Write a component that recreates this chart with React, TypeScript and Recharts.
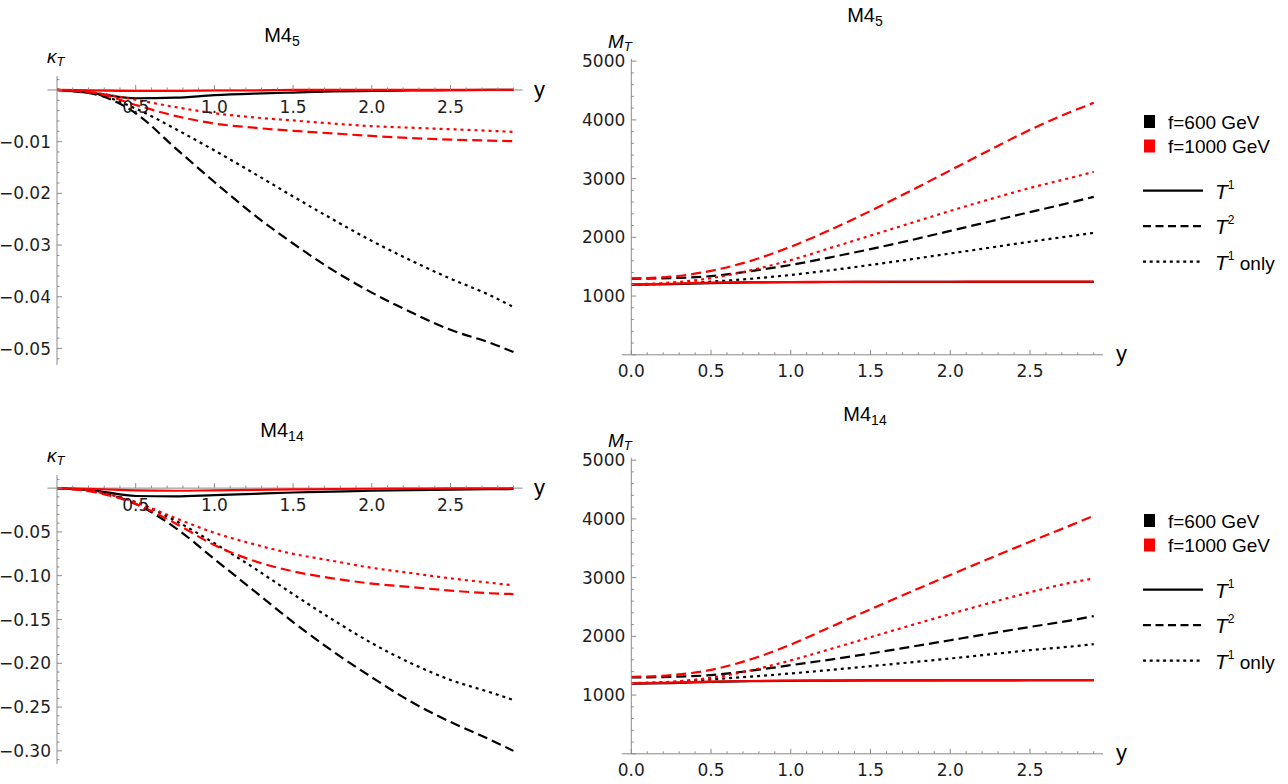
import React from 'react';
import { LineChart, Line, XAxis, YAxis, ReferenceLine, ReferenceDot, Legend } from 'recharts';

// sampled values of the mixing parameter y
const Y_PARAM = [0, 0.25, 0.5, 0.75, 1.0, 1.25, 1.5, 1.75, 2.0, 2.25, 2.5, 2.75, 2.9];

// kappa_T, M4_5
const K5_600_T1 = [0, -0.0007, -0.0016, -0.0015, -0.001, -0.0007, -0.0005, -0.0003, -0.0002, -0.0001, -0.00005, 0, 0];
const K5_600_T2 = [0, -0.0009, -0.0045, -0.0112, -0.0178, -0.0241, -0.0297, -0.0348, -0.0392, -0.043, -0.0464, -0.0489, -0.0507];
const K5_600_T1ONLY = [0, -0.0008, -0.0036, -0.0075, -0.0117, -0.0161, -0.0206, -0.025, -0.0292, -0.033, -0.0365, -0.0397, -0.042];
const K5_1000_T1 = [0, -0.0001, -0.0002, -0.0002, -0.0001, -0.0001, 0, 0, 0, 0, 0, 0, 0];
const K5_1000_T2 = [0, -0.0006, -0.0029, -0.005, -0.0065, -0.0073, -0.0079, -0.0084, -0.0089, -0.0093, -0.0096, -0.0098, -0.0099];
const K5_1000_T1ONLY = [0, -0.0006, -0.0019, -0.0033, -0.0045, -0.0053, -0.0059, -0.0065, -0.007, -0.0073, -0.0076, -0.0079, -0.0081];

// kappa_T, M4_14
const K14_600_T1 = [0, -0.003, -0.009, -0.0095, -0.008, -0.0065, -0.005, -0.004, -0.003, -0.0022, -0.0016, -0.0012, -0.001];
const K14_600_T2 = [0, -0.004, -0.018, -0.045, -0.081, -0.117, -0.153, -0.186, -0.216, -0.244, -0.267, -0.287, -0.3];
const K14_600_T1ONLY = [0, -0.004, -0.016, -0.037, -0.063, -0.091, -0.121, -0.15, -0.177, -0.2, -0.219, -0.233, -0.242];
const K14_1000_T1 = [0, -0.001, -0.0025, -0.003, -0.0025, -0.002, -0.0015, -0.001, -0.0007, -0.0005, -0.0003, -0.0002, -0.0001];
const K14_1000_T2 = [0, -0.005, -0.018, -0.04, -0.065, -0.083, -0.095, -0.103, -0.109, -0.113, -0.117, -0.12, -0.121];
const K14_1000_T1ONLY = [0, -0.004, -0.016, -0.034, -0.051, -0.064, -0.075, -0.083, -0.091, -0.097, -0.103, -0.108, -0.111];

// M_T in GeV, M4_5
const M5_600_T1 = [1195, 1205, 1222, 1232, 1237, 1240, 1241, 1242, 1242, 1243, 1243, 1243, 1243];
const M5_600_T2 = [1295, 1305, 1340, 1425, 1530, 1660, 1800, 1950, 2110, 2270, 2430, 2590, 2690];
const M5_600_T1ONLY = [1195, 1210, 1245, 1295, 1360, 1440, 1530, 1625, 1725, 1825, 1925, 2020, 2075];
const M5_1000_T1 = [1200, 1210, 1228, 1236, 1240, 1242, 1243, 1244, 1244, 1245, 1245, 1245, 1245];
const M5_1000_T2 = [1300, 1330, 1430, 1600, 1840, 2130, 2450, 2790, 3140, 3490, 3830, 4130, 4290];
const M5_1000_T1ONLY = [1200, 1230, 1306, 1440, 1612, 1820, 2030, 2240, 2450, 2650, 2840, 3010, 3115];

// M_T in GeV, M4_14
const M14_600_T1 = [1195, 1205, 1225, 1237, 1243, 1247, 1249, 1250, 1251, 1251, 1252, 1252, 1252];
const M14_600_T2 = [1300, 1310, 1340, 1415, 1509, 1605, 1708, 1820, 1934, 2048, 2160, 2268, 2345];
const M14_600_T1ONLY = [1200, 1220, 1266, 1315, 1368, 1428, 1492, 1557, 1623, 1693, 1764, 1825, 1866];
const M14_1000_T1 = [1200, 1212, 1230, 1240, 1245, 1248, 1250, 1251, 1252, 1252, 1253, 1253, 1253];
const M14_1000_T2 = [1310, 1340, 1430, 1610, 1860, 2160, 2460, 2755, 3045, 3330, 3610, 3885, 4050];
const M14_1000_T1ONLY = [1205, 1228, 1295, 1420, 1590, 1785, 1985, 2185, 2380, 2570, 2750, 2910, 2985];

const F_LEGEND = [
  { label: 'f=600 GeV', color: '#000000' },
  { label: 'f=1000 GeV', color: '#ff0000' },
];

const SERIES = [
  { key: 'f600T1', color: '#000000', dash: undefined },
  { key: 'f600T2', color: '#000000', dash: '10 5' },
  { key: 'f600T1only', color: '#000000', dash: '3 4' },
  { key: 'f1000T1', color: '#ff0000', dash: undefined },
  { key: 'f1000T2', color: '#ff0000', dash: '10 5' },
  { key: 'f1000T1only', color: '#ff0000', dash: '3 4' },
];

const AXIS = '#8a8a8a';
const LABEL = '#1e1e1e';
const TICK_FONT = "'DejaVu Sans', Verdana, sans-serif";
const TEXT_FONT = "'Liberation Sans', Arial, sans-serif";
const X_MAX = 2.958;
const X_PAD = -0.06; // horizontal axis runs a little past the vertical one

const steps = (from: number, to: number, step: number) => {
  const out: number[] = [];
  const n = Math.round((to - from) / step);
  for (let i = 0; i <= n; i++) out.push(+(from + i * step).toFixed(6));
  return out;
};

const isMajor = (v: number, major: number) => Math.abs(v / major - Math.round(v / major)) < 1e-6;

const buildRows = (cols: number[][]) =>
  Y_PARAM.map((y, i) => {
    const row: Record<string, number> = { y };
    SERIES.forEach((s, k) => (row[s.key] = cols[k][i]));
    return row;
  });

const k5Rows = buildRows([K5_600_T1, K5_600_T2, K5_600_T1ONLY, K5_1000_T1, K5_1000_T2, K5_1000_T1ONLY]);
const k14Rows = buildRows([K14_600_T1, K14_600_T2, K14_600_T1ONLY, K14_1000_T1, K14_1000_T2, K14_1000_T1ONLY]);
const m5Rows = buildRows([M5_600_T1, M5_600_T2, M5_600_T1ONLY, M5_1000_T1, M5_1000_T2, M5_1000_T1ONLY]);
const m14Rows = buildRows([M14_600_T1, M14_600_T2, M14_600_T1ONLY, M14_1000_T1, M14_1000_T2, M14_1000_T1ONLY]);

const minus = (s: string) => s.replace('-', '\u2212');

// y ticks point into the plot; only major ones carry a label
const makeYTick = (major: number, fmt: (v: number) => string) => (props: any) => {
  const { x, y, payload } = props;
  const v = payload.value;
  const big = isMajor(v, major);
  return (
    <g>
      <line x1={x} x2={x + (big ? 5 : 2.5)} y1={y} y2={y} stroke={AXIS} />
      {big && v !== 0 && (
        <text x={x - 6} y={y} dy="0.36em" textAnchor="end" fontFamily={TICK_FONT} fontSize={17} fill={LABEL}>
          {fmt(v)}
        </text>
      )}
    </g>
  );
};

const makeXTick = (props: any) => {
  const { x, y, payload } = props;
  const v = payload.value;
  const big = isMajor(v, 0.5);
  return (
    <g>
      <line x1={x} x2={x} y1={y} y2={y - (big ? 5 : 2.5)} stroke={AXIS} />
      {big && (
        <text x={x} y={y + 16} dy="0.36em" textAnchor="middle" fontFamily={TICK_FONT} fontSize={17} fill={LABEL}>
          {v.toFixed(1)}
        </text>
      )}
    </g>
  );
};

// x axis of the kappa panels sits at kappa = 0, inside the plot
const zeroAxisTick = (v: number) => (p: any) => {
  const big = isMajor(v, 0.5);
  return (
    <g>
      <line x1={p.cx} x2={p.cx} y1={p.cy} y2={p.cy - (big ? 5 : 2.5)} stroke={AXIS} />
      {big && (
        <text x={p.cx} y={p.cy + 16.5} dy="0.36em" textAnchor="middle" fontFamily={TICK_FONT} fontSize={17} fill={LABEL}>
          {v.toFixed(1)}
        </text>
      )}
    </g>
  );
};

const renderLines = () =>
  SERIES.map((s) => (
    <Line
      key={s.key}
      type="monotone"
      dataKey={s.key}
      stroke={s.color}
      strokeWidth={2.2}
      strokeDasharray={s.dash}
      dot={false}
      activeDot={false}
      isAnimationActive={false}
    />
  ));

function KappaPanel({ top, rows, domain, yTicks, major }: any) {
  const xTicks = steps(0.1, 2.9, 0.1);
  return (
    <div style={{ position: 'absolute', left: 0, top, width: 560, height: 390 }}>
      <LineChart width={560} height={390} data={rows} margin={{ top: 76, right: 37.4, bottom: 25, left: 0 }}>
        <XAxis dataKey="y" type="number" domain={[0, X_MAX]} allowDataOverflow hide />
        <YAxis
          type="number"
          domain={domain}
          allowDataOverflow
          width={57}
          ticks={yTicks}
          interval={0}
          tickSize={0}
          tickMargin={0}
          tickLine={false}
          axisLine={{ stroke: AXIS }}
          tick={makeYTick(major, (v) => minus(v.toFixed(2)))}
        />
        <ReferenceLine segment={[{ x: X_PAD, y: 0 }, { x: X_MAX, y: 0 }]} ifOverflow="visible" stroke={AXIS} />
        {xTicks.map((v) => (
          <ReferenceDot key={v} x={v} y={0} shape={zeroAxisTick(v)} />
        ))}
        {renderLines()}
      </LineChart>
    </div>
  );
}

const LegendBox = () => (
  <svg width={148} height={175}>
    {F_LEGEND.map((f, i) => (
      <g key={f.label}>
        <rect x={4} y={15 + i * 24.5} width={11} height={13} fill={f.color} />
        <text x={28} y={21.7 + i * 24.5} dy="0.36em" fontFamily={TEXT_FONT} fontSize={19} fill="#000">
          {f.label}
        </text>
      </g>
    ))}
    {SERIES.slice(0, 3).map((s, i) => (
      <g key={s.key}>
        <line x1={3} x2={63} y1={90.7 + i * 35.5} y2={90.7 + i * 35.5} stroke="#000" strokeWidth={2.2} strokeDasharray={s.dash ? (i === 1 ? '8 4.5' : '3 3.7') : undefined} />
        <text x={75} y={98.5 + i * 35.5} fontFamily={TEXT_FONT} fontSize={21} fill="#000">
          <tspan fontStyle="italic">T</tspan>
          <tspan fontSize={12} dy={-10}>{i === 1 ? '2' : '1'}</tspan>
          {i === 2 && <tspan fontSize={19} dy={10}> only</tspan>}
        </text>
      </g>
    ))}
  </svg>
);

function MassPanel({ top, rows }: any) {
  return (
    <div style={{ position: 'absolute', left: 560, top, width: 728, height: 390 }}>
      <LineChart width={728} height={390} data={rows} margin={{ top: 58.8, right: 185, bottom: 5.2, left: 0 }}>
        <XAxis
          dataKey="y"
          type="number"
          domain={[0, X_MAX]}
          allowDataOverflow
          height={30}
          ticks={steps(0, 2.9, 0.1)}
          interval={0}
          tickSize={0}
          tickMargin={0}
          tickLine={false}
          axisLine={{ stroke: AXIS }}
          tick={makeXTick}
        />
        <YAxis
          type="number"
          domain={[0, 5040]}
          allowDataOverflow
          width={71.3}
          ticks={steps(0, 5000, 200)}
          interval={0}
          tickSize={0}
          tickMargin={0}
          tickLine={false}
          axisLine={{ stroke: AXIS }}
          tick={makeYTick(1000, (v) => String(v))}
        />
        <ReferenceLine segment={[{ x: X_PAD, y: 0 }, { x: 0, y: 0 }]} ifOverflow="visible" stroke={AXIS} />
        <Legend
          layout="horizontal"
          verticalAlign="middle"
          align="center"
          content={() => <LegendBox />}
          wrapperStyle={{ position: 'absolute', left: 580, top: 100, width: 148, height: 175 }}
        />
        {renderLines()}
      </LineChart>
    </div>
  );
}

const Title = ({ x, y, sub }: { x: number; y: number; sub: string }) => (
  <text x={x} y={y} textAnchor="middle" fontFamily={TEXT_FONT} fontSize={20} fill="#000">
    M4<tspan fontSize={14} dy={4}>{sub}</tspan>
  </text>
);

const AxisName = ({ x, y, main, sub }: { x: number; y: number; main: string; sub: string }) => (
  <text x={x} y={y} fontFamily={TEXT_FONT} fontSize={19} fontStyle="italic" fill="#000">
    {main}
    <tspan fontSize={13} dy={3}>{sub}</tspan>
  </text>
);

const VarName = ({ x, y }: { x: number; y: number }) => (
  <text x={x} y={y} fontFamily={TEXT_FONT} fontSize={22} fill="#000">
    y
  </text>
);

export default function App() {
  return (
    <div style={{ position: 'absolute', left: 0, top: 0, width: 1288, height: 784, background: '#fff', overflow: 'hidden' }}>
      <KappaPanel top={0} rows={k5Rows} domain={[-0.0532, 0.0027]} yTicks={steps(-0.052, 0.002, 0.002)} major={0.01} />
      <KappaPanel top={399} rows={k14Rows} domain={[-0.315, 0.015]} yTicks={steps(-0.31, 0.01, 0.01)} major={0.05} />
      <MassPanel top={0} rows={m5Rows} />
      <MassPanel top={399} rows={m14Rows} />
      <svg width={1288} height={784} style={{ position: 'absolute', left: 0, top: 0, pointerEvents: 'none' }}>
        <Title x={282} y={42} sub="5" />
        <Title x={282} y={437} sub="14" />
        <Title x={865} y={22} sub="5" />
        <Title x={865} y={421} sub="14" />
        <AxisName x={47} y={63} main={'\u03ba'} sub="T" />
        <AxisName x={47} y={462} main={'\u03ba'} sub="T" />
        <AxisName x={608} y={48} main="M" sub="T" />
        <AxisName x={608} y={447} main="M" sub="T" />
        <VarName x={534} y={97} />
        <VarName x={534} y={495} />
        <VarName x={1116} y={361} />
        <VarName x={1116} y={760} />
      </svg>
    </div>
  );
}
